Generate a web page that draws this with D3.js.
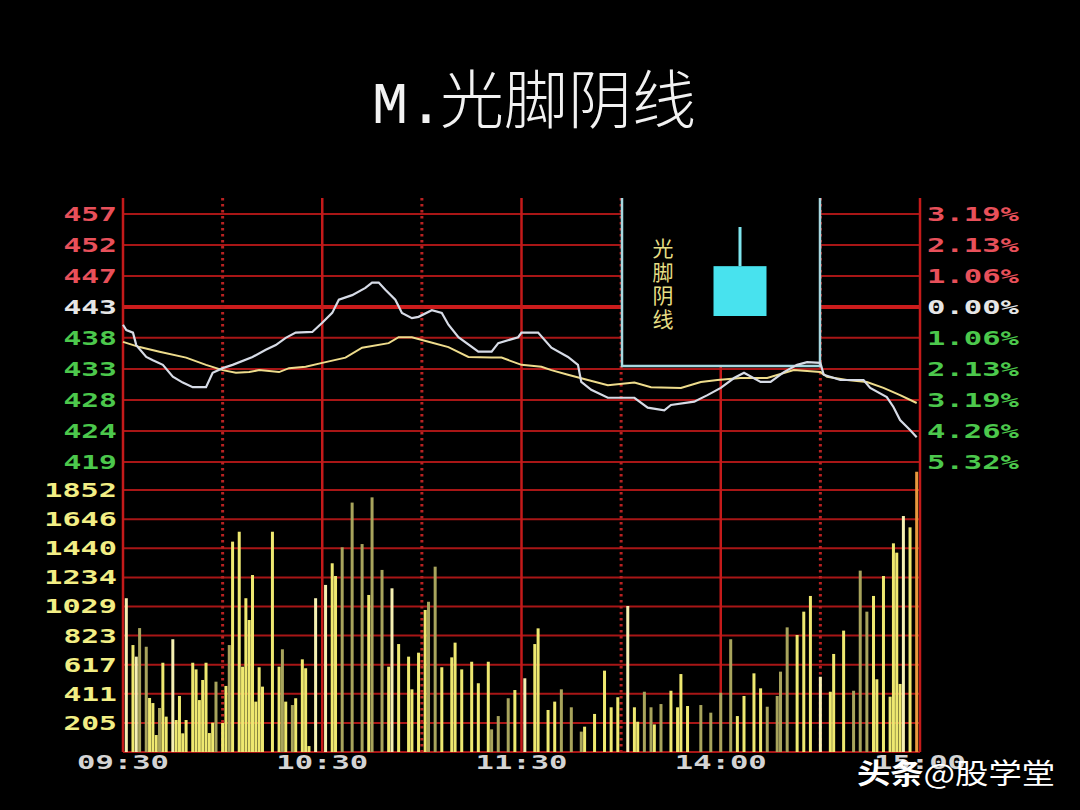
<!DOCTYPE html>
<html><head><meta charset="utf-8">
<script src="https://cdn.jsdelivr.net/npm/d3@7"></script>
<style>html,body{margin:0;padding:0;background:#000;}svg{display:block}</style>
</head><body><svg id="c" width="1080" height="810"></svg>
<script>
// ---------- data ----------
const title = "M.光脚阴线";
const insetLabel = "光脚阴线";
const timeLabels = ["09:30","10:30","11:30","14:00","15:00"];
const timeTicks = [0,60,120,180,240];
const gridMinutes = [0,30,60,90,120,150,180,210,240];
const prevClose = 443;
const pctTicks = [3.19,2.13,1.06,0,-1.06,-2.13,-3.19,-4.26,-5.32];
const priceLabels = ["457","452","447","443","438","433","428","424","419"];
const pctLabels = ["3.19%","2.13%","1.06%","0.00%","1.06%","2.13%","3.19%","4.26%","5.32%"];
const volTicks = [1852,1646,1440,1234,1029,823,617,411,205];
const volLabels = ["1852","1646","1440","1234","1029","823","617","411","205"];

const priceTime = [0,1,3,4,7,9,12,15,18,21,25,27,30,33,39,43,46,49,52,57,60,63,65,69,73,75,77,79,82,84,87,89,93,96,98,101,107,111,113,119,120,125,129,134,137,138,141,146,154,158,163,165,172,176,180,184,187,192,195,199,203,206,210,211,216,223,225,230,232,234,237,239];
const priceValue = [440.3,439.5,439.1,437.2,435.4,434.9,434.2,432.4,431.5,430.8,430.8,433.0,433.7,434.2,435.4,436.5,437.2,438.3,439.1,439.2,440.6,442.1,444.1,444.8,445.9,446.7,446.7,445.6,444.1,442.1,441.3,441.5,442.5,442.1,440.3,438.4,436.2,436.2,437.5,438.4,439.1,439.1,436.8,435.4,434.2,431.6,430.4,429.2,429.2,427.7,427.3,428.1,428.6,429.6,430.7,432.2,433.0,431.6,431.6,433.1,434.2,434.6,434.5,432.7,431.9,431.9,430.7,429.3,427.8,425.8,424.3,423.2];

const avgTime = [0,5,11,19,25,30,34,38,41,47,50,55,60,67,72,80,83,87,92,98,104,111,114,120,126,129,134,140,146,154,159,168,174,179,186,194,202,210,212,218,224,229,234,239];
const avgValue = [437.7,436.9,436.2,435.3,434.2,433.4,433.0,433.1,433.4,433.1,433.7,433.9,434.5,435.3,436.8,437.5,438.4,438.4,437.7,436.9,435.4,435.3,435.3,434.2,433.9,433.4,432.7,431.9,431.1,431.5,430.8,430.7,431.6,431.9,432.2,432.2,433.4,433.1,432.4,431.9,431.6,430.7,429.6,428.4];

const volTime = [1,3,4,5,7,8,9,10,11,12,13,15,16,17,18,19,21,22,23,24,25,26,27,28,30,31,32,33,35,36,37,38,39,40,41,42,45,47,48,49,51,52,54,55,56,58,61,63,64,66,69,72,74,75,78,80,81,83,86,87,89,91,92,94,96,99,100,102,105,107,110,111,113,116,118,121,124,125,128,130,132,135,138,139,142,145,147,149,152,154,155,157,159,160,162,165,167,168,170,174,177,180,183,185,187,190,192,194,197,198,200,203,205,207,210,213,214,217,220,222,224,226,227,229,231,232,233,234,235,237,239];
const volume = [1087,756,674,876,744,382,346,120,311,631,250,797,226,396,132,226,631,584,367,509,631,134,207,497,205,467,756,1487,1557,603,1087,933,1251,356,599,462,1557,603,726,356,332,380,655,592,42,1087,1181,1334,1244,1447,1763,1470,1110,1800,1287,603,1157,763,674,443,702,1004,1062,1310,599,669,773,584,638,486,638,160,254,380,438,521,763,874,297,356,443,316,144,179,269,575,316,387,1032,316,214,426,316,195,339,433,316,551,325,332,278,419,797,254,396,556,450,320,396,568,881,827,992,1103,532,426,693,858,433,1282,992,1103,514,1244,391,1475,1409,481,1668,1588,1981];
const volTone = ("pypooyyyoy"+"ypyyyyyyyy"+"yyyoyyoyyy"+"yyyyyyyyoy"+"oyyyyppyyo"+"ooyooypyyy"+"yyooyyyyyy"+"yoooypyyyy"+"oooyyyyypy"+"yooyoyyyyo"+"oooyyyyooo"+"oyyypyyyoo"+"oyyyyyyypyr").split("");

// inset candle (open, high, low, close) in a local unit scale
const candle = {open:56, high:100, low:0, close:0};

// ---------- layout ----------
const W = 1080, H = 810;
const L = 123, R = 920, T = 198;
const svg = d3.select("#c");
svg.append("rect").attr("width",W).attr("height",H).attr("fill","#000");

const x = d3.scaleLinear().domain([0,240]).range([L,R]);
const yPct = d3.scaleLinear().domain([-5.32,3.19]).range([462,214]);
const yPrice = p => yPct((p/prevClose-1)*100);
const yVol = d3.scaleLinear().domain([0,1852]).range([752,490]);

const gridCol = "#a81616";
const g = svg.append("g");
pctTicks.forEach(p=>{
  g.append("line").attr("x1",L).attr("x2",R).attr("y1",yPct(p)).attr("y2",yPct(p))
   .attr("stroke", p===0?"#cc1c1c":gridCol).attr("stroke-width", p===0?4:2);
});
volTicks.concat([0]).forEach(v=>{
  g.append("line").attr("x1",L).attr("x2",R).attr("y1",yVol(v)).attr("y2",yVol(v))
   .attr("stroke",gridCol).attr("stroke-width",2);
});
gridMinutes.forEach((m,i)=>{
  const solid = i%2===0;
  g.append("line").attr("x1",x(m)).attr("x2",x(m)).attr("y1",T).attr("y2",yVol(0))
   .attr("stroke", solid?"#c41a1a":"#b82222").attr("stroke-width", solid?2.5:3)
   .attr("stroke-dasharray", solid?null:"2.5,3.5");
});

// inset box (black, cyan border, open top)
const bx0 = 622, bx1 = 820, by0 = T-2, by1 = 366;
svg.append("rect").attr("x",bx0).attr("y",by0).attr("width",bx1-bx0).attr("height",by1-by0).attr("fill","#000");
svg.append("path").attr("d",`M${bx0},${T}V${by1}H${bx1}V${T}`)
  .attr("fill","none").attr("stroke","#a6d8e0").attr("stroke-width",2.5);
const yC = d3.scaleLinear().domain([0,100]).range([316,227]);
const cx = 740, cw = 53;
svg.append("line").attr("x1",cx).attr("x2",cx).attr("y1",yC(candle.high)).attr("y2",yC(candle.open))
  .attr("stroke","#7fe6ee").attr("stroke-width",3);
svg.append("rect").attr("x",cx-cw/2).attr("width",cw)
  .attr("y",yC(Math.max(candle.open,candle.close)))
  .attr("height",yC(Math.min(candle.open,candle.close))-yC(Math.max(candle.open,candle.close)))
  .attr("fill","#48e2ee");
svg.append("text").attr("x",663).attr("y",238)
  .attr("writing-mode","vertical-rl").attr("letter-spacing",2.5)
  .attr("font-family","'Noto Sans CJK SC'").attr("font-size",21).attr("fill","#e6de84")
  .text(insetLabel);

// volume bars
const toneCol = {y:"#eee870", p:"#f6f0b2", o:"#a8a45c", r:"#e8983c"};
const bars = volTime.map((t,i)=>({t, v:volume[i], c:volTone[i]||"y"}));
svg.append("g").selectAll("rect").data(bars).join("rect")
  .attr("x",d=>x(d.t)-1.5).attr("width",3)
  .attr("y",d=>yVol(d.v)).attr("height",d=>yVol(0)-yVol(d.v))
  .attr("fill",d=>toneCol[d.c]);

// price & average lines
const avgData = avgTime.map((t,i)=>({t,p:avgValue[i]}));
const priceData = priceTime.map((t,i)=>({t,p:priceValue[i]}));
const line = d3.line().x(d=>x(d.t)).y(d=>yPrice(d.p));
svg.append("path").datum(avgData).attr("d",line).attr("fill","none")
  .attr("stroke","#eedc8c").attr("stroke-width",2);
svg.append("path").datum(priceData).attr("d",line).attr("fill","none")
  .attr("stroke","#d6dbe6").attr("stroke-width",2.2);

// ---------- labels ----------
const mono = "'DejaVu Sans Mono'";
const cw1 = 19.2;
function lab(txt, xx, yy, anchor, col){
  const len = txt.length*cw1-4;
  const x0 = anchor==="end" ? xx-len : anchor==="middle" ? xx-len/2 : xx;
  svg.append("text").attr("x",x0).attr("y",yy).attr("font-family",mono).attr("font-weight","bold")
    .attr("font-size",20).attr("fill",col).attr("textLength",len).attr("lengthAdjust","spacingAndGlyphs")
    .text(txt);
}
const pc = p => p>0 ? "#e8505a" : p===0 ? "#e6e6e6" : "#4cc84c";
pctTicks.forEach((p,i)=>{
  lab(priceLabels[i], 117, yPct(p)+7, "end", pc(p));
  lab(pctLabels[i], 927, yPct(p)+7, "start", pc(p));
});
volTicks.forEach((v,i)=> lab(volLabels[i], 117, yVol(v)+7, "end", "#f2ee84"));
timeTicks.forEach((m,i)=> lab(timeLabels[i], x(m), 769, "middle", "#d4d4d4"));

// title (one text element, two font runs)
const tt = svg.append("text").attr("x",372).attr("y",123).attr("fill","#f2f2f2");
tt.append("tspan").attr("font-family","'Liberation Mono'").attr("font-size",60).text(title.slice(0,2));
tt.append("tspan").attr("dx",-4).attr("font-family","'Noto Sans CJK SC'").attr("font-weight",300)
  .attr("font-size",64).text(title.slice(2));

// watermark
svg.append("text").attr("x",857).attr("y",784).attr("font-family","'Noto Sans CJK SC'")
  .attr("font-size",28).attr("fill","#ffffff").attr("textLength",198).attr("lengthAdjust","spacingAndGlyphs")
  .html('<tspan font-weight="bold">头条</tspan>@股学堂');
</script></body></html>
